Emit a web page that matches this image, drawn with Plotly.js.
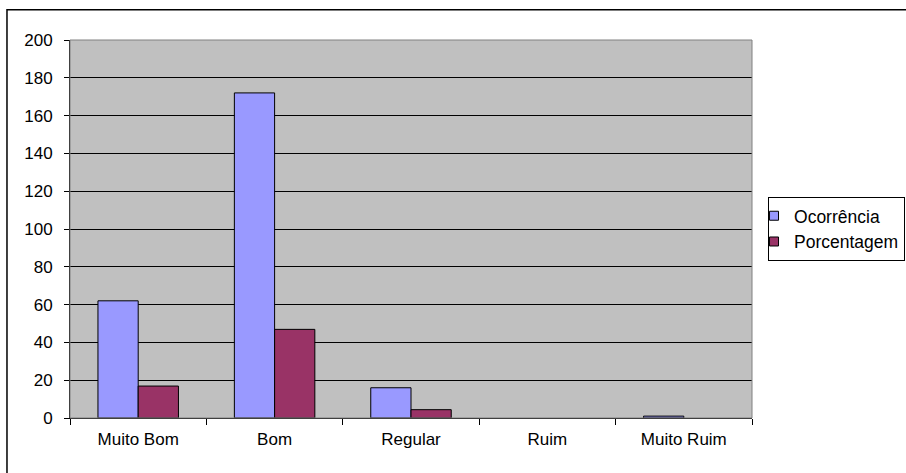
<!DOCTYPE html>
<html>
<head>
<meta charset="utf-8">
<script src="https://cdn.plot.ly/plotly-3.0.1.min.js"></script>
<style>
html,body{margin:0;padding:0;background:#fff;}
#chart{width:906px;height:473px;}
</style>
</head>
<body>
<div id="chart"></div>
<script>
const categories = ["Muito Bom", "Bom", "Regular", "Ruim", "Muito Ruim"];
const ocorrencia = [62, 172, 16, 0, 1];
const porcentagem = [16.9, 46.9, 4.4, 0, 0];
const seriesNames = ["Ocorrência", "Porcentagem"];
const seriesColors = ["#9999FF", "#993366"];
const yTicks = [0, 20, 40, 60, 80, 100, 120, 140, 160, 180, 200];

const font = {family: "Liberation Sans, Arial, sans-serif", size: 17, color: "#000"};
const legendFont = {family: "Liberation Sans, Arial, sans-serif", size: 17.5, color: "#000"};

const outlineWidths = vals => vals.map(v => (v > 0 ? 1 : 0));

const traces = [
  {type: "bar", name: seriesNames[0], x: categories, y: ocorrencia, showlegend: false,
   marker: {color: seriesColors[0], line: {color: "#000", width: outlineWidths(ocorrencia)}}},
  {type: "bar", name: seriesNames[1], x: categories, y: porcentagem, showlegend: false,
   marker: {color: seriesColors[1], line: {color: "#000", width: outlineWidths(porcentagem)}}},
  {type: "scatter", mode: "markers", name: seriesNames[0], x: [null], y: [null],
   marker: {symbol: "square", size: 9, color: seriesColors[0], line: {color: "#000", width: 1}}},
  {type: "scatter", mode: "markers", name: seriesNames[1], x: [null], y: [null],
   marker: {symbol: "square", size: 9, color: seriesColors[1], line: {color: "#000", width: 1}}}
];

const layout = {
  width: 906, height: 473,
  margin: {l: 70, r: 154, t: 40, b: 55, pad: 0, autoexpand: false},
  paper_bgcolor: "#fff",
  plot_bgcolor: "#C0C0C0",
  font: font,
  showlegend: true,
  barmode: "group",
  bargap: 0.41,
  bargroupgap: 0,
  xaxis: {
    type: "category",
    categoryarray: categories,
    tickson: "boundaries",
    ticks: "outside", ticklen: 6, tickcolor: "#000", tickwidth: 1,
    showline: true, linecolor: "#000", linewidth: 1,
    showgrid: false, zeroline: false,
    tickfont: font,
    ticklabelstandoff: 6
  },
  yaxis: {
    range: [0, 200],
    tickvals: yTicks,
    ticks: "outside", ticklen: 5, tickcolor: "#000", tickwidth: 1,
    showline: true, linecolor: "#000", linewidth: 1,
    showgrid: true, gridcolor: "#000", gridwidth: 1,
    zeroline: false,
    tickfont: font,
    ticklabelstandoff: 8
  },
  legend: {
    x: 1.0235, y: 0.585, xanchor: "left", yanchor: "top",
    bgcolor: "#fff", bordercolor: "#000", borderwidth: 1,
    font: legendFont,
    itemwidth: 30,
    indentation: -15,
    tracegroupgap: 0
  },
  shapes: [
    {type: "rect", xref: "paper", yref: "paper", x0: 0, x1: 1, y0: 0, y1: 1,
     line: {color: "#808080", width: 1}, fillcolor: "rgba(0,0,0,0)", layer: "above"},
    {type: "rect", xref: "paper", yref: "paper", x0: -0.0924, x1: 1.5, y0: -0.5, y1: 1.080,
     line: {color: "#000", width: 1.5}, fillcolor: "rgba(0,0,0,0)"}
  ]
};

Plotly.newPlot("chart", traces, layout, {displayModeBar: false, staticPlot: true});
</script>
</body>
</html>
